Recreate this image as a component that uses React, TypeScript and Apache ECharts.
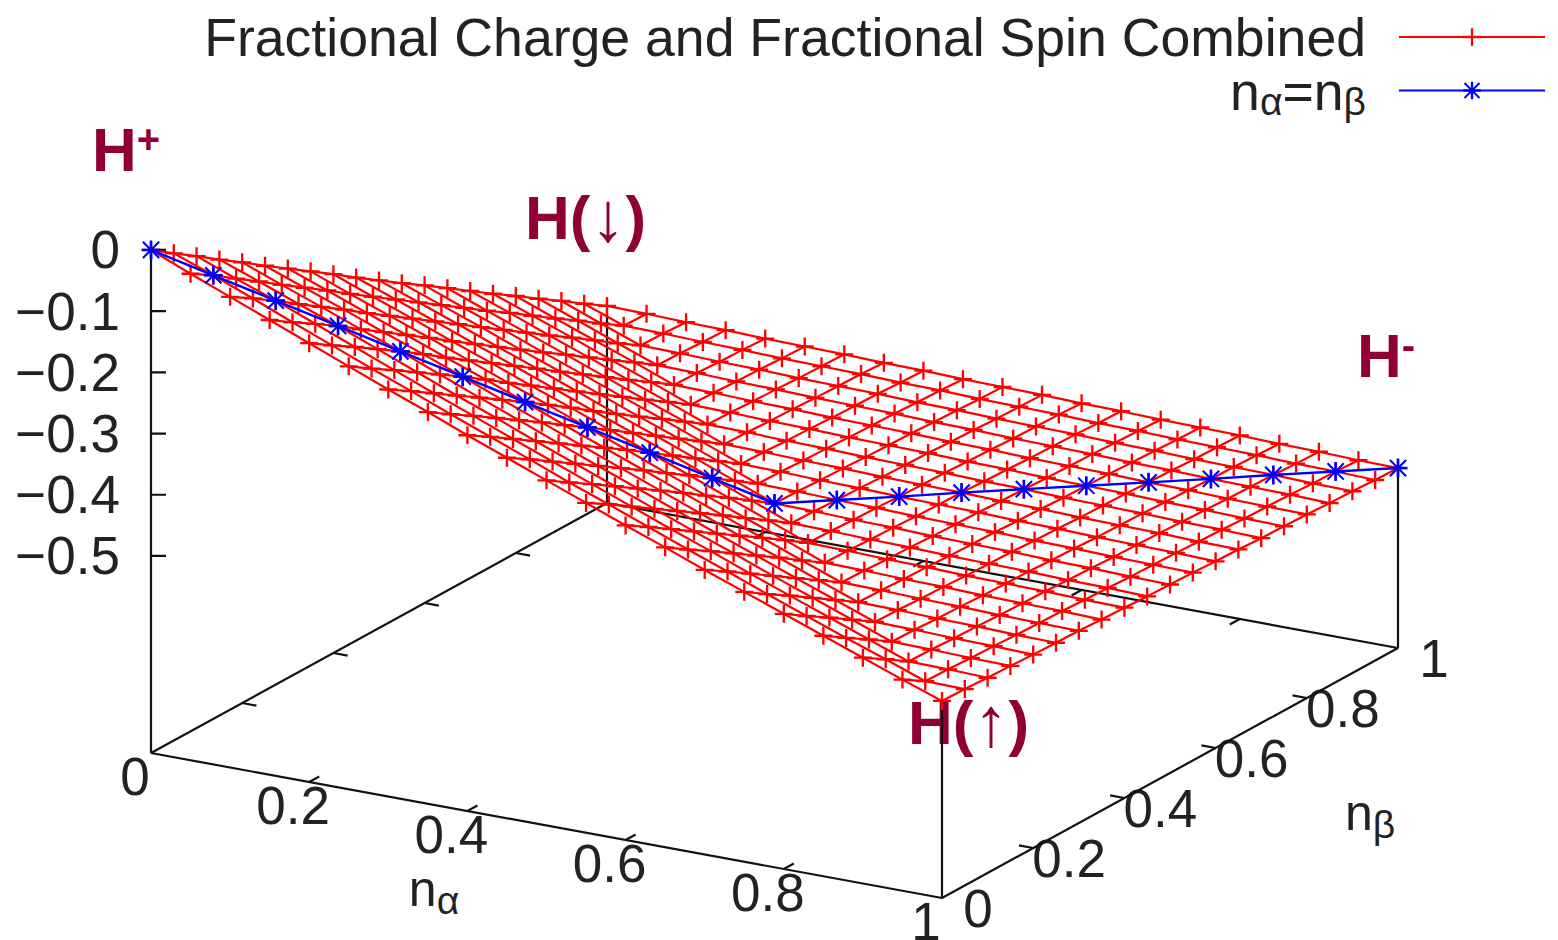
import React, { useEffect, useRef } from "react";
import * as echarts from "echarts";

// Energy surface E(n_alpha, n_beta), one row per n_alpha step of 0.05, one column per n_beta step of 0.05
const surfaceRows: number[][] = [
  [0,-.026,-.051,-.077,-.102,-.128,-.153,-.178,-.203,-.229,-.254,-.279,-.303,-.328,-.353,-.378,-.402,-.427,-.451,-.476,-.5],
  [-.027,-.05,-.076,-.101,-.127,-.152,-.177,-.203,-.228,-.253,-.278,-.303,-.328,-.353,-.377,-.402,-.427,-.451,-.476,-.5,-.501],
  [-.053,-.076,-.1,-.126,-.151,-.176,-.202,-.227,-.252,-.277,-.302,-.327,-.352,-.377,-.402,-.426,-.451,-.476,-.5,-.501,-.503],
  [-.079,-.103,-.126,-.15,-.176,-.201,-.226,-.251,-.277,-.302,-.327,-.352,-.377,-.401,-.426,-.451,-.475,-.5,-.501,-.503,-.504],
  [-.105,-.129,-.152,-.176,-.2,-.225,-.251,-.276,-.301,-.326,-.351,-.376,-.401,-.426,-.451,-.475,-.5,-.501,-.503,-.504,-.506],
  [-.131,-.155,-.178,-.202,-.226,-.25,-.275,-.301,-.326,-.351,-.376,-.401,-.426,-.451,-.475,-.5,-.501,-.503,-.504,-.506,-.507],
  [-.157,-.18,-.204,-.228,-.252,-.276,-.3,-.325,-.35,-.376,-.401,-.426,-.45,-.475,-.5,-.501,-.503,-.504,-.506,-.507,-.508],
  [-.182,-.206,-.229,-.253,-.277,-.301,-.326,-.35,-.375,-.4,-.425,-.45,-.475,-.5,-.501,-.503,-.504,-.506,-.507,-.508,-.51],
  [-.208,-.231,-.255,-.279,-.303,-.327,-.351,-.375,-.4,-.425,-.45,-.475,-.5,-.501,-.503,-.504,-.506,-.507,-.508,-.51,-.511],
  [-.233,-.256,-.28,-.304,-.328,-.352,-.376,-.401,-.425,-.45,-.475,-.5,-.501,-.503,-.504,-.506,-.507,-.508,-.51,-.511,-.513],
  [-.258,-.282,-.305,-.329,-.353,-.377,-.401,-.426,-.45,-.475,-.5,-.501,-.503,-.504,-.506,-.507,-.508,-.51,-.511,-.513,-.514],
  [-.283,-.306,-.33,-.354,-.378,-.402,-.426,-.451,-.475,-.5,-.501,-.503,-.504,-.506,-.507,-.508,-.51,-.511,-.513,-.514,-.515],
  [-.308,-.331,-.355,-.379,-.403,-.427,-.451,-.475,-.5,-.501,-.503,-.504,-.506,-.507,-.508,-.51,-.511,-.513,-.514,-.515,-.517],
  [-.332,-.356,-.379,-.403,-.427,-.451,-.476,-.5,-.501,-.503,-.504,-.506,-.507,-.508,-.51,-.511,-.513,-.514,-.515,-.517,-.518],
  [-.357,-.38,-.404,-.428,-.452,-.476,-.5,-.501,-.503,-.504,-.506,-.507,-.508,-.51,-.511,-.513,-.514,-.515,-.517,-.518,-.52],
  [-.381,-.405,-.428,-.452,-.476,-.5,-.501,-.503,-.504,-.506,-.507,-.508,-.51,-.511,-.513,-.514,-.515,-.517,-.518,-.52,-.521],
  [-.405,-.429,-.452,-.476,-.5,-.501,-.503,-.504,-.506,-.507,-.508,-.51,-.511,-.513,-.514,-.515,-.517,-.518,-.52,-.521,-.522],
  [-.429,-.453,-.476,-.5,-.501,-.503,-.504,-.506,-.507,-.508,-.51,-.511,-.513,-.514,-.515,-.517,-.518,-.52,-.521,-.522,-.524],
  [-.453,-.476,-.5,-.501,-.503,-.504,-.506,-.507,-.508,-.51,-.511,-.513,-.514,-.515,-.517,-.518,-.52,-.521,-.522,-.524,-.525],
  [-.477,-.5,-.501,-.503,-.504,-.506,-.507,-.508,-.51,-.511,-.513,-.514,-.515,-.517,-.518,-.52,-.521,-.522,-.524,-.525,-.527],
  [-.5,-.501,-.503,-.504,-.506,-.507,-.508,-.51,-.511,-.513,-.514,-.515,-.517,-.518,-.52,-.521,-.522,-.524,-.525,-.527,-.528],
];
// Grid coordinates along both occupation axes
const occupations = [0,.05,.1,.15,.2,.25,.3,.35,.4,.45,.5,.55,.6,.65,.7,.75,.8,.85,.9,.95,1];
// Energy along n_alpha = n_beta
const diagonalValues = [0,-.05,-.1,-.15,-.2,-.25,-.3,-.35,-.4,-.45,-.5,-.503,-.506,-.508,-.511,-.514,-.517,-.52,-.522,-.525,-.528];
const floorTicks = [0.2,0.4,0.6,0.8];
const floorLabels = ["0","0.2","0.4","0.6","0.8","1"];
const floorLabelValues = [0,0.2,0.4,0.6,0.8,1];
const zTicks = [0,-0.1,-0.2,-0.3,-0.4,-0.5];
const zLabels = ["0","\u22120.1","\u22120.2","\u22120.3","\u22120.4","\u22120.5"];
const NAME_SURFACE = "Fractional Charge and Fractional Spin Combined";
const NAME_DIAGONAL = "n\u03b1=n\u03b2";

// Orthographic view of the 3D box
const ORIGIN_X = 151, ORIGIN_Y = 753;
const ALPHA_DX = 791, ALPHA_DY = 145;
const BETA_DX = 456, BETA_DY = -250;
const Z_FLOOR = -0.822, Z_SCALE = 612;
const project = (a: number, b: number, z: number = Z_FLOOR): [number, number] => [
  ORIGIN_X + ALPHA_DX * a + BETA_DX * b,
  ORIGIN_Y + ALPHA_DY * a + BETA_DY * b - (z - Z_FLOOR) * Z_SCALE,
];
const GAP: any = ["-", "-"];

const surfaceAlongBeta: any[] = [];
surfaceRows.forEach((row, i) => {
  row.forEach((z, j) => surfaceAlongBeta.push(project(occupations[i], occupations[j], z)));
  surfaceAlongBeta.push(GAP);
});
const surfaceAlongAlpha: any[] = [];
occupations.forEach((_, j) => {
  surfaceRows.forEach((row, i) => surfaceAlongAlpha.push(project(occupations[i], occupations[j], row[j])));
  surfaceAlongAlpha.push(GAP);
});
const diagonal = diagonalValues.map((z, i) => project(occupations[i], occupations[i], z));

const frame: any[] = [
  project(0,0), project(1,0), project(1,1), project(0,1), project(0,0), project(0,0,0), GAP,
  project(1,1), project(1,1,surfaceRows[20][20]), GAP,
  project(0,1), project(0,1,-0.488), GAP,
  project(1,0), project(1,0,surfaceRows[20][0]),
];
const TICK_LEN = 0.022, TICK_LEN_B = 0.018;
const ticks: any[] = [];
floorTicks.forEach((t) => {
  ticks.push(project(t,0), project(t,TICK_LEN), GAP);
  ticks.push(project(t,1), project(t,1-TICK_LEN), GAP);
  ticks.push(project(0,t), project(TICK_LEN_B,t), GAP);
  ticks.push(project(1,t), project(1-TICK_LEN_B,t), GAP);
});
zTicks.forEach((z) => {
  const p = project(0,0,z);
  ticks.push(p, [p[0]+15, p[1]], GAP);
});

const PLUS = "path://M-1.3 -10h2.6v20h-2.6z M-10 -1.3h20v2.6h-20z";
const STAR = "path://M-1.2 -9h2.4v18h-2.4z M-9 -1.2h18v2.4h-18z M-7 -8.4L8.4 7L7 8.4L-8.4 -7z M7 -8.4L8.4 -7L-7 8.4L-8.4 7z";
const FONT = "'Liberation Sans', Arial, sans-serif";
const TEXT = "#222222";
const MAROON = "#8f0035";
const FS = 53;
const AXIS_NAME_FS = 50;
const LEGEND_FS = 53.6;
const SUB = 39;

function label(x: number, y: number, text: string, align = "center"): any {
  return { type: "text", x, y, silent: true, style: { text, align, verticalAlign: "middle", fontFamily: FONT, fontSize: FS, lineHeight: 36, fill: TEXT } };
}
function subscripted(x: number, y: number, text: string): any {
  return { type: "text", x, y, silent: true, style: { text, align: "center", verticalAlign: "middle", fill: TEXT, fontFamily: FONT,
    rich: { n: { fontFamily: FONT, fontSize: AXIS_NAME_FS, fill: TEXT, lineHeight: 40 }, s: { fontFamily: FONT, fontSize: SUB, fill: TEXT, padding: [22,0,0,0], lineHeight: 18 } } } };
}
function marker(x: number, y: number, text: string): any {
  return { type: "text", x, y, silent: true, style: { text, align: "left", verticalAlign: "middle", fill: MAROON, fontFamily: FONT,
    rich: { h: { fontFamily: FONT, fontSize: 62, fontWeight: "bold", fill: MAROON, lineHeight: 70 }, u: { fontFamily: FONT, fontSize: 40, fontWeight: "bold", fill: MAROON, padding: [0,0,20,0], lineHeight: 50 }, a: { fontFamily: FONT, fontSize: 70, fill: MAROON, lineHeight: 70 } } } };
}

export default function App() {
  const ref = useRef<HTMLDivElement>(null);
  useEffect(() => {
    document.body.style.margin = "0";
    const chart = echarts.init(ref.current!, null, { renderer: "svg" });
    const graphics: any[] = [];
    zTicks.forEach((z, i) => graphics.push(label(120, project(0,0,z)[1], zLabels[i], "right")));
    floorLabelValues.forEach((v, i) => {
      const p = project(v,0); graphics.push(label(p[0]-16, p[1]+23, floorLabels[i]));
      const q = project(1,v); graphics.push(label(q[0]+36, q[1]+10, floorLabels[i]));
    });
    graphics.push(subscripted(434, 889, "{n|n}{s|\u03b1}"));
    graphics.push(subscripted(1370, 813, "{n|n}{s|\u03b2}"));
    graphics.push(marker(92, 149, "{h|H}{u|+}"));
    graphics.push(marker(525, 217, "{h|H(}{a|\u2193}{h|)}"));
    graphics.push(marker(1357, 355, "{h|H}{u|-}"));
    graphics.push(marker(908, 722, "{h|H(}{a|\u2191}{h|)}"));

    chart.setOption({
      animation: false,
      backgroundColor: "#ffffff",
      grid: { left: 0, right: 0, top: 0, bottom: 0 },
      xAxis: { type: "value", min: 0, max: 1558, show: false },
      yAxis: { type: "value", min: 0, max: 940, inverse: true, show: false },
      legend: {
        show: true, orient: "vertical", align: "right", right: 12, top: 10, padding: 0,
        itemWidth: 146, itemHeight: 22, itemGap: -4, selectedMode: false,
        data: [NAME_SURFACE, NAME_DIAGONAL],
        formatter: (name: string) => (name === NAME_DIAGONAL ? "{n|n}{s|\u03b1}{n|=n}{s|\u03b2}{g| }" : "{n|" + name + "}{g| }"),
        textStyle: { fontFamily: FONT, fontSize: LEGEND_FS, color: TEXT,
          rich: { n: { fontFamily: FONT, fontSize: LEGEND_FS, color: TEXT, lineHeight: 53 }, s: { fontFamily: FONT, fontSize: SUB, color: TEXT, padding: [22,0,0,0], lineHeight: 31 }, g: { width: 28, fontSize: 10, lineHeight: 53 } } },
      },
      graphic: graphics,
      series: [
        { name: "frame", type: "line", data: frame, showSymbol: false, symbol: "none", z: 1, silent: true, lineStyle: { color: "#111111", width: 2.2 } },
        { name: "ticks", type: "line", data: ticks, showSymbol: false, symbol: "none", z: 1, silent: true, lineStyle: { color: "#111111", width: 2.2 } },
        { name: NAME_SURFACE, type: "line", data: surfaceAlongBeta, symbol: PLUS, symbolSize: 18, z: 2, silent: true,
          lineStyle: { color: "#ff0000", width: 2.2 }, itemStyle: { color: "#ff0000" } },
        { name: NAME_SURFACE, type: "line", data: surfaceAlongAlpha, showSymbol: false, symbol: "none", z: 2, silent: true,
          lineStyle: { color: "#ff0000", width: 2.2 } },
        { name: NAME_DIAGONAL, type: "line", data: diagonal, symbol: STAR, symbolSize: 19, z: 3, silent: true,
          lineStyle: { color: "#0000ff", width: 2.4 }, itemStyle: { color: "#0000ff" } },
      ],
    });
    return () => chart.dispose();
  }, []);
  return <div ref={ref} style={{ position: "absolute", left: 0, top: 0, width: 1558, height: 940 }} />;
}
